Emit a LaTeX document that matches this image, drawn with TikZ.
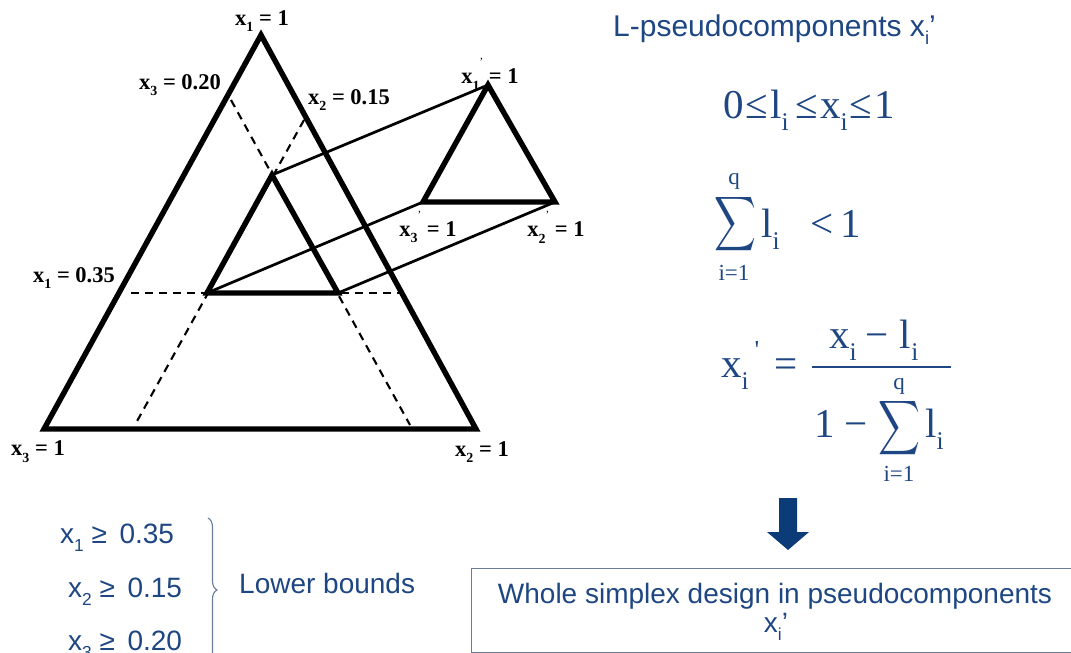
\documentclass[tikz,border=0pt]{standalone}
\usepackage{fontspec}
\setmainfont{Liberation Serif}
\newfontfamily\arialf{Liberation Sans}
\usetikzlibrary{decorations.pathreplacing}
\definecolor{tblue}{RGB}{30,70,130}
\definecolor{ablue}{RGB}{12,60,120}
\definecolor{bgray}{RGB}{105,125,155}
\newcommand\sbs[1]{\raisebox{-0.3em}{\scalebox{0.62}{#1}}}
\newcommand\lprime{\raisebox{0.8em}{\fontsize{11}{11}\selectfont\mdseries ’}}
\begin{document}
\begin{tikzpicture}[x=1pt,y=-1pt,
  tri/.style={line width=5.4pt, line join=miter},
  link/.style={line width=2.7pt},
  guide/.style={line width=2.1pt, dash pattern=on 8pt off 6pt},
  lab/.style={font=\fontsize{22.5}{25}\selectfont\bfseries, inner sep=0pt},
  eq/.style={text=tblue, font=\fontsize{41}{44}\selectfont, inner sep=0pt},
  eqs/.style={text=tblue, font=\fontsize{23}{26}\selectfont, inner sep=0pt},
  sans/.style={text=tblue, font=\arialf\fontsize{28}{32}\selectfont, inner sep=0pt},
  sigma/.style={text=tblue, inner sep=0pt, font=\normalsize},
]
\useasboundingbox (0,0) rectangle (1071,653);
% geometry
\coordinate (A) at (261,35);
\coordinate (B) at (44,429);
\coordinate (C) at (476,429);
\coordinate (P) at (272,175);
\coordinate (Q) at (207,293);
\coordinate (R) at (338,293);
\coordinate (S1) at (488,85);
\coordinate (S3) at (423,202);
\coordinate (S2) at (555,202);
\coordinate (g1a) at (231,100);
\coordinate (g1b) at (410,425);
\coordinate (g2a) at (304,120);
\coordinate (g2b) at (136,423);
\coordinate (g3a) at (131,293);
\coordinate (g3b) at (399,293);
% dashed guides
\draw[guide] (g1a) -- (g1b);
\draw[guide] (g2a) -- (g2b);
\draw[guide] (g3a) -- (g3b);
% links
\draw[link] (P) -- (S1);
\draw[link] (Q) -- (S3);
\draw[link] (R) -- (S2);
% triangles
\draw[tri] (A) -- (B) -- (C) -- cycle;
\draw[tri] (P) -- (Q) -- (R) -- cycle;
\draw[tri] (S1) -- (S3) -- (S2) -- cycle;
% labels
\node[lab] (lA) at (262,21) {x\sbs{1} = 1};
\node[lab] (lx3) at (180,85) {x\sbs{3} = 0.20};
\node[lab] (lx2) at (349,100) {x\sbs{2} = 0.15};
\node[lab] (lS1) at (490,74) {x\sbs{1}\lprime\ = 1};
\node[lab] (lS3) at (428,227) {x\sbs{3}\lprime\ = 1};
\node[lab] (lS2) at (556,227) {x\sbs{2}\lprime\ = 1};
\node[lab] (lx1) at (74,278) {x\sbs{1} = 0.35};
\node[lab] (lB) at (38,452) {x\sbs{3} = 1};
\node[lab] (lC) at (482,452) {x\sbs{2} = 1};
% title
\node[sans, font=\arialf\fontsize{30}{34}\selectfont, anchor=base west] (title) at (613,36) {L-pseudocomponents x\sbs{i}’};
% eq 1
\node[eq, anchor=base west] (eq1) at (723,118) {0\kern2pt≤\kern2pt l\sbs{i}\kern7pt≤\kern2pt x\sbs{i}\kern2pt≤\kern2pt 1};
% eq 2
\node[sigma] (sig1) at (735,224) {\scalebox{2.9}[3.8]{$\displaystyle\sum$}};
\node[eqs] (q1) at (734,181) {q};
\node[eqs] (ib1) at (734,273) {i=1};
\node[eq, anchor=base west] (l1) at (761,237) {l\sbs{i}};
\node[eq, anchor=base west] (lt1) at (810,237) {<\,1};
% eq 3
\node[eq, anchor=base west] (xp) at (721,377) {x\sbs{i}};
\node[eqs, font=\fontsize{26}{28}\selectfont] (pr) at (757,350) {\textquotesingle};
\node[eq, anchor=base west] (eqsign) at (774,377) {=};
\coordinate (fb1) at (812,367);
\coordinate (fb2) at (951,367);
\draw[tblue, line width=1.8pt] (fb1) -- (fb2);
\node[eq, anchor=base west] (num) at (829,348) {x\sbs{i}\hspace{9pt}−\hspace{11pt}l\sbs{i}};
\node[eq, anchor=base west] (den1) at (814,437) {1\hspace{10pt}−};
\node[sigma] (sig2) at (899,428) {\scalebox{2.9}[3.8]{$\displaystyle\sum$}};
\node[eqs] (q2) at (899,386) {q};
\node[eqs] (ib2) at (899,474) {i=1};
\node[eq, anchor=base west] (l2) at (925,437) {l\sbs{i}};
% arrow
\fill[ablue] (779,498) -- (797,498) -- (797,532) -- (809,532) -- (788,550) -- (767,532) -- (779,532) -- cycle;
% box
\node[draw=bgray, line width=1.2pt, minimum width=610pt, minimum height=84pt, anchor=north west, inner sep=0pt] (box) at (471,568) {};
\node[sans, anchor=base] (bt1) at (775,603) {Whole simplex design in pseudocomponents};
\node[sans, anchor=base] (bt2) at (776,632) {x\sbs{i}’};
% lower bounds
\node[sans, anchor=base west] (lb1) at (60,543) {x\sbs{1} ≥\hspace{0.45em}0.35};
\node[sans, anchor=base west] (lb2) at (68,597) {x\sbs{2} ≥\hspace{0.45em}0.15};
\node[sans, anchor=base west] (lb3) at (68,650) {x\sbs{3} ≥\hspace{0.45em}0.20};
\coordinate (br1) at (208,518);
\coordinate (br2) at (208,662);
\draw[bgray, line width=1.1pt, decorate, decoration={brace, amplitude=9pt}] (br1) -- (br2);
\node[sans, anchor=base west] (lbt) at (239,593) {Lower bounds};
\end{tikzpicture}
\end{document}
